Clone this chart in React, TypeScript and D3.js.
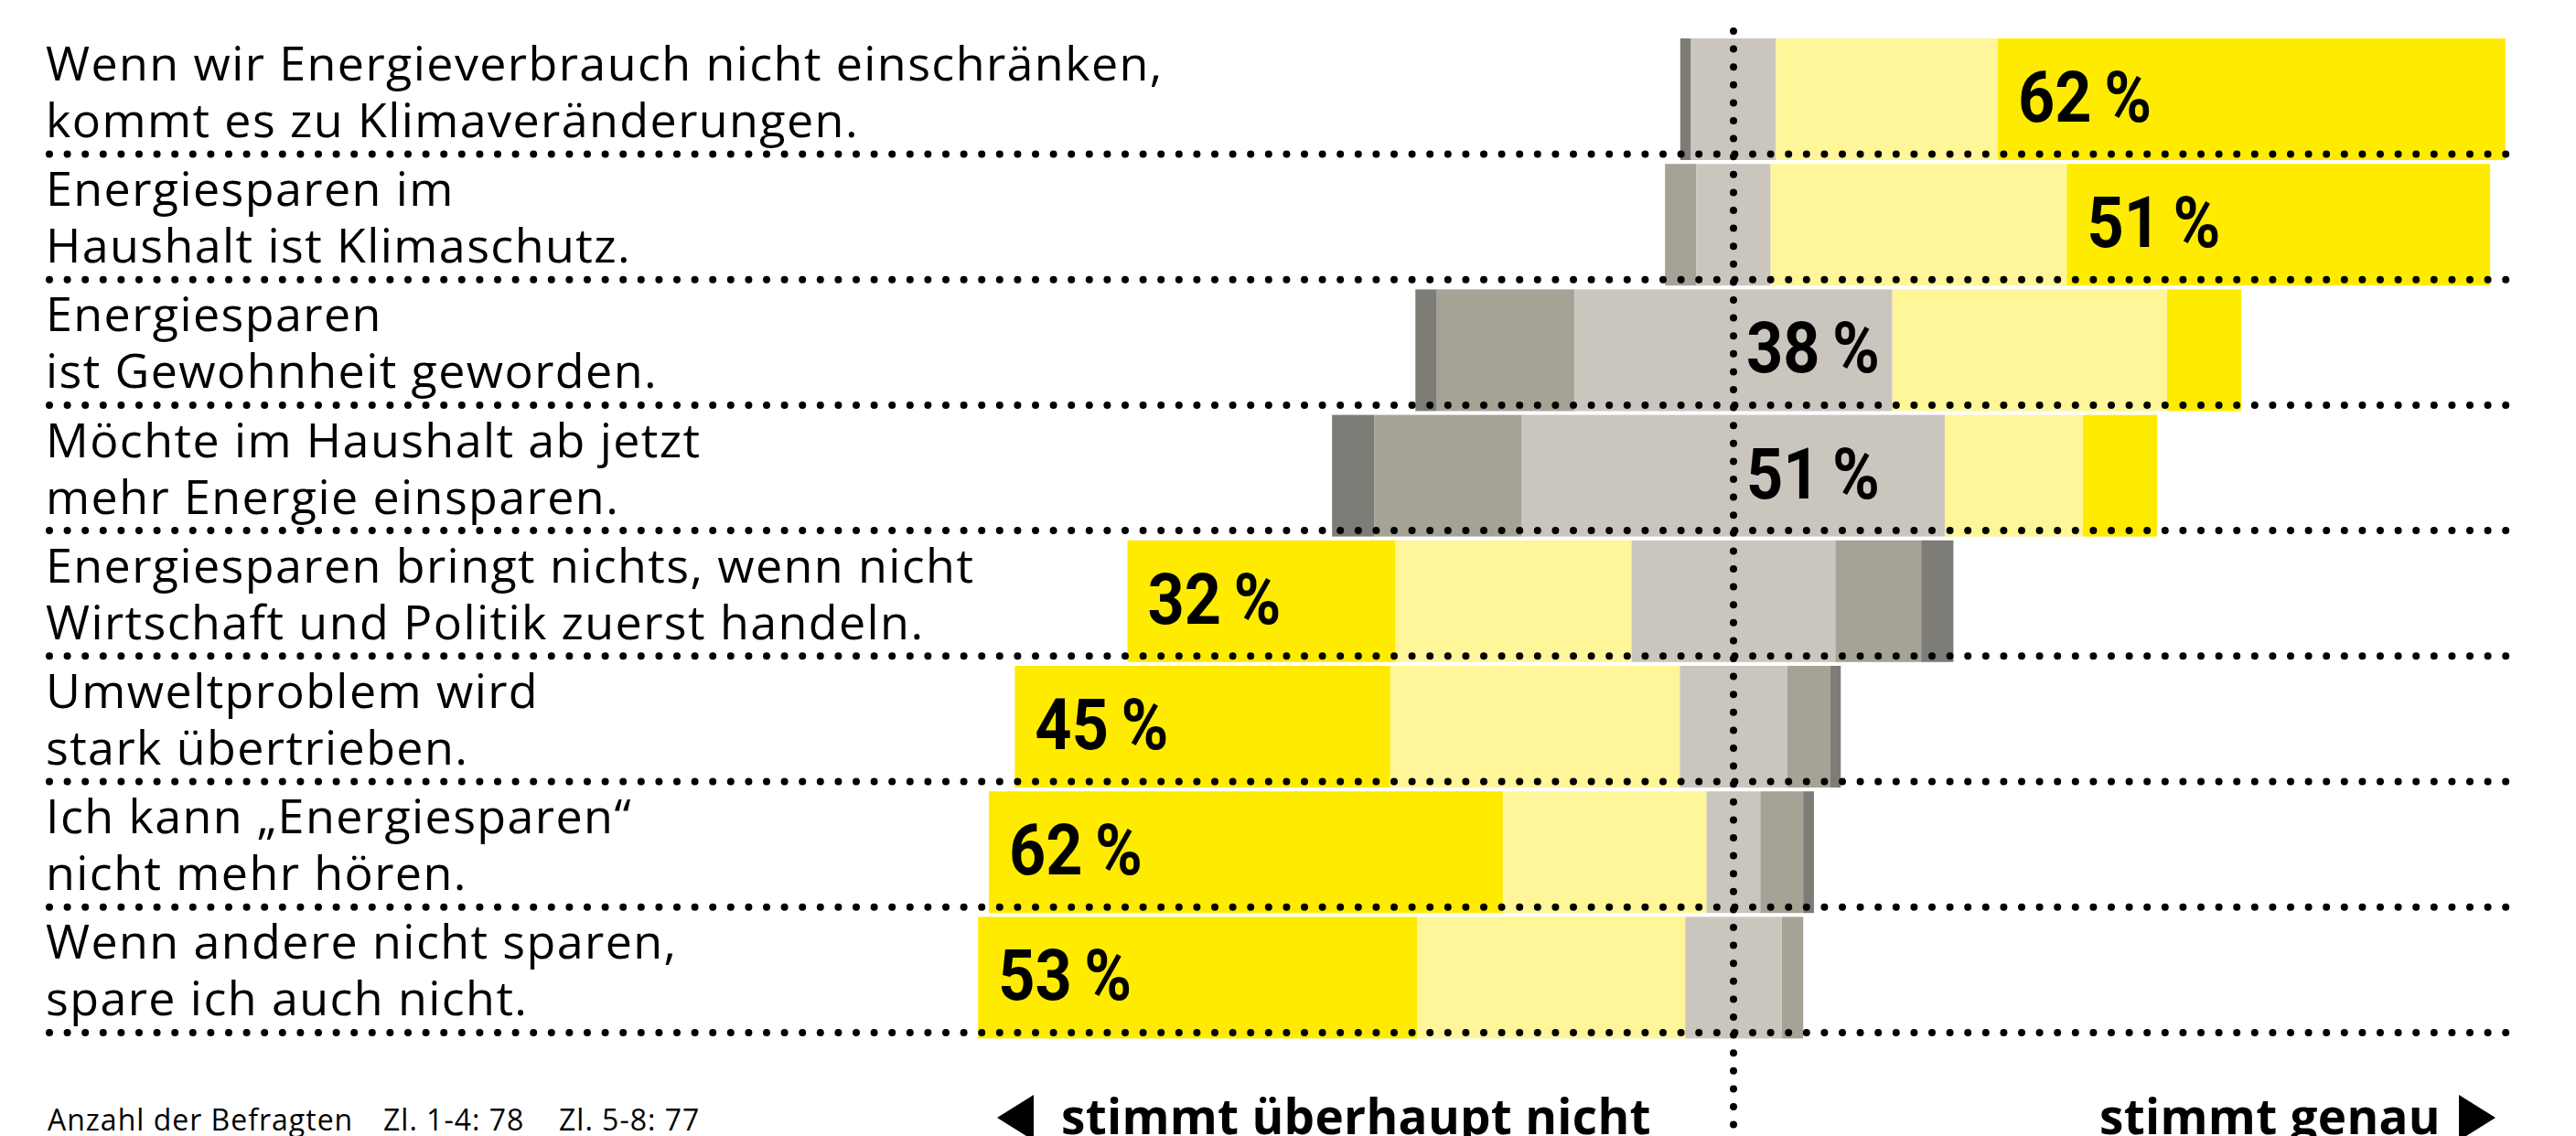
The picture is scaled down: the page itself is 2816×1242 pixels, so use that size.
import React from "react";
import * as d3 from "d3";

// Statements (two lines each)
const statements: string[][] = [
  ["Wenn wir Energieverbrauch nicht einschränken,", "kommt es zu Klimaveränderungen."],
  ["Energiesparen im", "Haushalt ist Klimaschutz."],
  ["Energiesparen", "ist Gewohnheit geworden."],
  ["Möchte im Haushalt ab jetzt", "mehr Energie einsparen."],
  ["Energiesparen bringt nichts, wenn nicht", "Wirtschaft und Politik zuerst handeln."],
  ["Umweltproblem wird", "stark übertrieben."],
  ["Ich kann „Energiesparen“", "nicht mehr hören."],
  ["Wenn andere nicht sparen,", "spare ich auch nicht."],
];

// Answer shares in % (left to right: stimmt überhaupt nicht ... stimmt genau)
const stimmtUeberhauptNicht = [1.3, 0, 2.6, 5.1, 32.5, 45.5, 62.3, 53.2];
const stimmtEherNicht = [0, 3.8, 16.7, 17.9, 28.6, 35.1, 24.7, 32.5];
const teilsTeils = [10.3, 9.0, 38.5, 51.3, 24.7, 13.0, 6.5, 11.7];
const stimmtEher = [26.9, 35.9, 33.3, 16.7, 10.4, 5.2, 5.2, 2.6];
const stimmtGenau = [61.5, 51.3, 9.0, 9.0, 3.9, 1.3, 1.3, 0];

// Displayed labels
const labelValues = [62, 51, 38, 51, 32, 45, 62, 53];
// Statement direction: positive statements have agreement in yellow
const positive = [true, true, true, true, false, false, false, false];

const respondentsNote = ["Anzahl der Befragten", "Zl. 1-4: 78", "Zl. 5-8: 77"];
const axisLeft = "stimmt überhaupt nicht";
const axisRight = "stimmt genau";

const palettePos = ["#7d7c76", "#a5a396", "#cac6be", "#fff599", "#ffeb00"];

const W = 2816;
const H = 1242;
const CX = 1895;

export default function App() {
  const x = d3.scaleLinear().domain([0, 100]).range([0, 902]);
  const n = statements.length;
  const y = d3
    .scaleBand<number>()
    .domain(d3.range(n))
    .range([42, 42 + n * 137.2 - 4.2])
    .paddingInner(4.2 / 137.2)
    .paddingOuter(0);
  const bh = y.bandwidth();

  const rows = d3.range(n).map((i) => {
    const vals = [
      stimmtUeberhauptNicht[i],
      stimmtEherNicht[i],
      teilsTeils[i],
      stimmtEher[i],
      stimmtGenau[i],
    ];
    const colors = positive[i] ? palettePos : [...palettePos].reverse();
    const start = CX - x(vals[0] + vals[1] + vals[2] / 2);
    const cum = [0, ...d3.cumsum(vals)];
    const segs = vals.map((v, k) => ({
      x0: start + x(cum[k]),
      w: x(v),
      color: colors[k],
      v,
      k,
    }));
    const maxIdx = d3.maxIndex(vals);
    const seg = segs[maxIdx];
    const lx = maxIdx === 2 ? CX + 14 : seg.x0 + 22;
    return { i, segs, lx };
  });

  const dot = {
    stroke: "#000",
    strokeWidth: 8,
    strokeLinecap: "round" as const,
    strokeDasharray: "0 19.6",
  };

  const textStyle = {
    fontFamily: "'Open Sans', sans-serif",
    fontSize: 52,
    letterSpacing: 1.4,
    fill: "#000",
  };

  return (
    <svg
      width={W}
      height={H}
      viewBox={`0 0 ${W} ${H}`}
      style={{ position: "absolute", left: 0, top: 0, background: "#fff" }}
    >
      <rect x={0} y={0} width={W} height={H} fill="#fff" />
      {rows.map((r) => (
        <g key={r.i}>
          {r.segs.map((s) =>
            s.w > 0 ? (
              <rect key={s.k} x={s.x0} y={y(r.i)} width={s.w} height={bh} fill={s.color} />
            ) : null
          )}
        </g>
      ))}
      {rows.map((r) => (
        <g key={"t" + r.i}>
          <text x={50} y={(y(r.i) as number) + 46} style={textStyle}>
            {statements[r.i][0]}
          </text>
          <text x={50} y={(y(r.i) as number) + 108} style={textStyle}>
            {statements[r.i][1]}
          </text>
          <line x1={54} x2={2740} y1={(y(r.i) as number) + 126.5} y2={(y(r.i) as number) + 126.5} {...dot} />
        </g>
      ))}
      <line x1={CX} x2={CX} y1={34} y2={H + 10} {...dot} />
      {rows.map((r) => (
        <text
          key={"l" + r.i}
          transform={`translate(${r.lx},${(y(r.i) as number) + 91}) scale(0.9,1)`}
          fontFamily="Roboto, sans-serif"
          fontWeight={700}
          fontSize={78}
          fill="#000"
        >
          {String(labelValues[r.i])}
          <tspan dx={15}>%</tspan>
        </text>
      ))}
      <g fontFamily="'Open Sans', sans-serif" fontSize={32} letterSpacing={1} fill="#000">
        <text x={52} y={1236}>{respondentsNote[0]}</text>
        <text x={419} y={1236}>{respondentsNote[1]}</text>
        <text x={611} y={1236}>{respondentsNote[2]}</text>
      </g>
      <path d={`M1090,1222 L1130,1197 L1130,1247 Z`} fill="#000" />
      <path d={`M2728,1222 L2688,1197 L2688,1247 Z`} fill="#000" />
      <g fontFamily="'Open Sans', sans-serif" fontSize={53} letterSpacing={0.3} fontWeight={700} fill="#000">
        <text x={1160} y={1240}>{axisLeft}</text>
        <text x={2668} y={1240} textAnchor="end">{axisRight}</text>
      </g>
    </svg>
  );
}
